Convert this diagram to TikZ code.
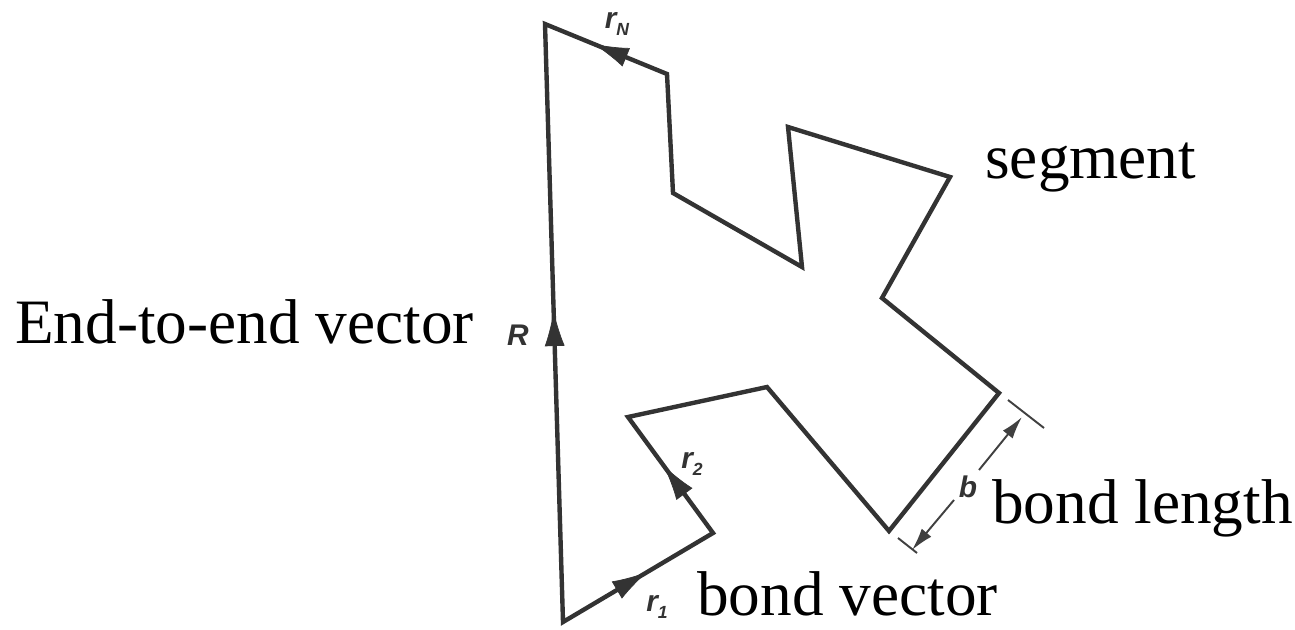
\documentclass[tikz,border=0pt]{standalone}
\usepackage{fontspec}
\setmainfont{Liberation Serif}
\newfontfamily\lblfont{Liberation Sans}
\usetikzlibrary{arrows.meta,decorations.markings}
\newcommand\bondsub[2]{#1\raisebox{-0.45ex}{\fontsize{10}{10}\selectfont #2}}
\tikzset{
  bond/.style     = {line width=2.5pt, draw=black!80, line join=miter},
  midarrow/.style = {color=black!80, postaction={decorate},
                     decoration={markings, mark=at position #1 with
                     {\arrow{Latex[length=0.7cm, width=0.4cm]}}}},
  dim/.style      = {line width=1.1pt, draw=black!75},
  dimar/.style    = {dim, -{Latex[length=0.45cm, width=0.25cm]}},
  lbl/.style      = {font=\lblfont\bfseries\itshape\fontsize{17}{17}\selectfont,
                     text=black!80, inner sep=0pt},
  captext/.style  = {font=\fontsize{36}{36}\selectfont, anchor=base west,
                     inner sep=0pt},
}

\begin{document}
\begin{tikzpicture}[x=0.02cm, y=-0.02cm]
\useasboundingbox (0,0) rectangle (1295,629);

\coordinate (v0) at (563,622);
\coordinate (v1) at (713,533);
\coordinate (v2) at (628,417);
\coordinate (v3) at (767,387);
\coordinate (v4) at (889,531);
\coordinate (v5) at (999,393);
\coordinate (v6) at (882,298);
\coordinate (v7) at (950,177);
\coordinate (v8) at (788,127);
\coordinate (v9) at (802,267);
\coordinate (v10) at (673,193);
\coordinate (v11) at (667,74);
\coordinate (v12) at (545,24);

\draw[bond] (v0) -- (v1) -- (v2) -- (v3) -- (v4) -- (v5) -- (v6) -- (v7)
  -- (v8) -- (v9) -- (v10) -- (v11) -- (v12) -- cycle;

\path[midarrow=0.56] (v0) -- (v1);
\path[midarrow=0.58] (v1) -- (v2);
\path[midarrow=0.6] (v11) -- (v12);
\path[midarrow=0.52] (v0) -- (v12);

\node[lbl] (lr1) at (657,607) {\bondsub{r}{1}};
\node[lbl] (lr2) at (692,464) {\bondsub{r}{2}};
\node[lbl] (lrN) at (617,24) {\bondsub{r}{N}};
\node[lbl] (lR) at (518,335) {R};
\node[lbl] (lb) at (968,487) {b};

\coordinate (ta1) at (1008,400);
\coordinate (ta2) at (1044,428);
\coordinate (tb1) at (898,538);
\coordinate (tb2) at (917,553);
\coordinate (da) at (1022,417);
\coordinate (db) at (912,550);
\coordinate (ga) at (979,470);
\coordinate (gb) at (954,500);
\draw[dim] (ta1) -- (ta2);
\draw[dim] (tb1) -- (tb2);
\draw[dimar] (ga) -- (da);
\draw[dimar] (gb) -- (db);

\node[captext] (tend) at (15,343) {End-to-end vector};
\node[captext] (tseg) at (985,178) {segment};
\node[captext] (tlen) at (992,523) {bond length};
\node[captext] (tvec) at (697,615) {bond vector};
\end{tikzpicture}
\end{document}
